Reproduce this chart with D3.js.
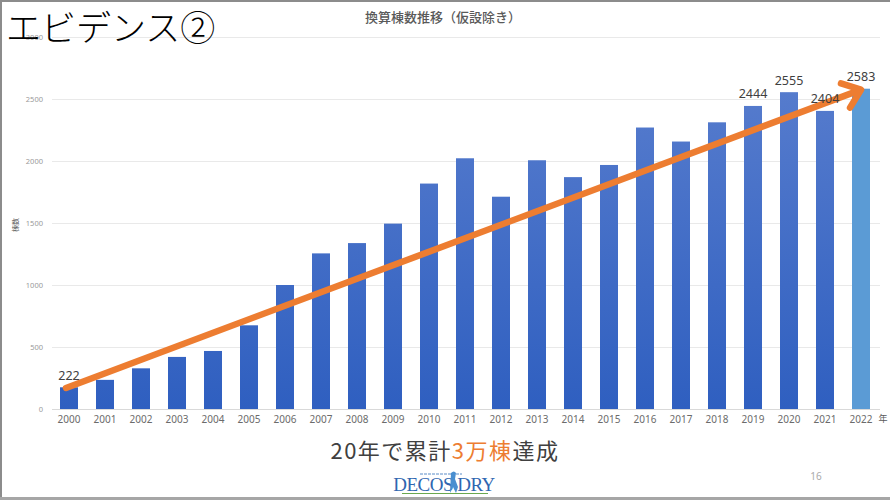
<!DOCTYPE html>
<html>
<head>
<meta charset="utf-8">
<script src="https://cdn.jsdelivr.net/npm/d3@7"></script>
<style>
  html, body { margin: 0; padding: 0; background: #fff; }
  svg { display: block; }
</style>
</head>
<body>
<svg id="chart" width="890" height="500"></svg>
<script>
// ---- data ----
const years = ["2000","2001","2002","2003","2004","2005","2006","2007","2008","2009","2010","2011","2012","2013","2014","2015","2016","2017","2018","2019","2020","2021","2022"];
const values = [175, 235, 328, 420, 468, 675, 1000, 1255, 1338, 1495, 1818, 2022, 1712, 2006, 1870, 1968, 2270, 2157, 2312, 2444, 2555, 2404, 2583];
const yTicks = [0, 500, 1000, 1500, 2000, 2500, 3000];
const labelYears = ["2000", "2019", "2020", "2021", "2022"];
const labelTexts = ["222", "2444", "2555", "2404", "2583"];
const highlightYear = "2022";
const trendStart = { year: "2000", value: 170 };
const trendEnd = { year: "2022", value: 2575 };
const titleText = "換算棟数推移（仮設除き）";
const slideTitle = "エビデンス②";
const yAxisLabel = "棟数";
const xUnit = "年";
const footerParts = [["20年で累計", "#404040"], ["3万棟", "#ED7D31"], ["達成", "#404040"]];
const pageNumber = "16";

// ---- layout ----
const svg = d3.select("#chart");
const W = 890, H = 500;
const plotLeft = 51, plotRight = 879, plotTop = 37, plotBottom = 409;
const jpFont = "'Noto Sans CJK JP', 'Noto Sans', sans-serif";
const numFont = "'Noto Sans', 'Open Sans', sans-serif";

const x = d3.scaleBand().domain(years).range([plotLeft, plotRight]).paddingInner(0.5).paddingOuter(0.25);
const y = d3.scaleLinear().domain([0, 3000]).range([plotBottom, plotTop]);

// background
svg.append("rect").attr("width", W).attr("height", H).attr("fill", "#fff");

// gradient
const defs = svg.append("defs");
const grad2 = defs.append("linearGradient").attr("id", "barGrad2").attr("x1", 0).attr("x2", 0)
  .attr("gradientUnits", "userSpaceOnUse").attr("y1", plotTop).attr("y2", plotBottom);
grad2.append("stop").attr("offset", "0%").attr("stop-color", "#5C80CF");
grad2.append("stop").attr("offset", "100%").attr("stop-color", "#2F5FC0");

// gridlines
svg.append("g").selectAll("line").data(yTicks).join("line")
  .attr("x1", 52).attr("x2", 880)
  .attr("y1", d => Math.round(y(d)) + 0.5).attr("y2", d => Math.round(y(d)) + 0.5)
  .attr("stroke", d => d === 0 ? "#d9d9d9" : "#e9e9e9").attr("stroke-width", 1);

// y tick labels
svg.append("g").selectAll("text").data(yTicks).join("text")
  .attr("x", 43).attr("y", d => y(d)).attr("dy", "0.35em")
  .attr("text-anchor", "end").attr("font-family", numFont).attr("font-size", 7.5)
  .attr("fill", "#9a9a9a").text(d => d);

// y axis label
svg.append("text").attr("transform", "translate(18,225) rotate(-90)")
  .attr("text-anchor", "middle").attr("font-family", jpFont).attr("font-size", 7)
  .attr("fill", "#595959").text(yAxisLabel);

// bars
svg.append("g").selectAll("rect").data(years).join("rect")
  .attr("x", d => x(d)).attr("width", x.bandwidth())
  .attr("y", (d, i) => y(values[i])).attr("height", (d, i) => y(0) - y(values[i]))
  .attr("fill", d => d === highlightYear ? "#5B9BD5" : "url(#barGrad2)");

// x labels
svg.append("g").selectAll("text").data(years).join("text")
  .attr("x", d => x(d) + x.bandwidth() / 2).attr("y", 419).attr("dy", "0.35em")
  .attr("text-anchor", "middle").attr("font-family", numFont).attr("font-size", 10)
  .attr("fill", "#6b6b6b").text(d => d);
svg.append("text").attr("x", 883).attr("y", 419).attr("dy", "0.35em")
  .attr("text-anchor", "middle").attr("font-family", jpFont).attr("font-size", 9)
  .attr("fill", "#595959").text(xUnit);

// trend arrow
const sx = x(trendStart.year) + x.bandwidth() / 2 - 3, sy = y(trendStart.value);
const ex = x(trendEnd.year) + x.bandwidth() / 2, ey = y(trendEnd.value);
const ang = Math.atan2(ey - sy, ex - sx);
const armLen = 21, armAng = 38 * Math.PI / 180;
const arrow = svg.append("g").attr("stroke", "#ED7D31").attr("fill", "none")
  .attr("stroke-width", 6.5).attr("stroke-linecap", "round").attr("stroke-linejoin", "round");
arrow.append("line").attr("x1", sx).attr("y1", sy).attr("x2", ex - 2 * Math.cos(ang)).attr("y2", ey - 2 * Math.sin(ang));
arrow.append("path").attr("d", d3.line()([
  [ex - armLen * Math.cos(ang - armAng), ey - armLen * Math.sin(ang - armAng)],
  [ex, ey],
  [ex - armLen * Math.cos(ang + armAng), ey - armLen * Math.sin(ang + armAng)]
]));

// data labels
svg.append("g").selectAll("text").data(labelYears).join("text")
  .attr("x", d => x(d) + x.bandwidth() / 2)
  .attr("y", d => y(values[years.indexOf(d)]) - 12).attr("dy", "0.35em")
  .attr("text-anchor", "middle").attr("font-family", numFont).attr("font-size", 12.5)
  .attr("fill", "#404040").text((d, i) => labelTexts[i]);

// chart title
svg.append("text").attr("x", 443).attr("y", 17).attr("dy", "0.35em")
  .attr("text-anchor", "middle").attr("font-family", jpFont).attr("font-size", 13)
  .attr("font-weight", 500).attr("fill", "#595959").text(titleText);

// slide title
svg.append("text").attr("x", 6).attr("y", 41)
  .attr("font-family", jpFont).attr("font-size", 35).attr("font-weight", 300)
  .attr("fill", "#000").text(slideTitle);

// footer message
const foot = svg.append("text").attr("x", 445).attr("y", 451).attr("dy", "0.35em")
  .attr("text-anchor", "middle").attr("font-family", jpFont).attr("font-size", 22)
  .attr("letter-spacing", 1.5);
foot.selectAll("tspan").data(footerParts).join("tspan").attr("fill", d => d[1]).text(d => d[0]);

// logo
const logo = svg.append("g");
logo.append("text").attr("x", 444).attr("y", 491).attr("text-anchor", "middle")
  .attr("font-family", "'Liberation Serif', serif").attr("font-size", 19).attr("letter-spacing", -0.5)
  .attr("fill", "#2F66B0").text("DECOS DRY");
logo.append("line").attr("x1", 420).attr("x2", 462).attr("y1", 474).attr("y2", 474)
  .attr("stroke", "#5a8cc8").attr("stroke-width", 1).attr("stroke-dasharray", "3,1");
logo.append("line").attr("x1", 402).attr("x2", 488).attr("y1", 493.5).attr("y2", 493.5)
  .attr("stroke", "#6aa84f").attr("stroke-width", 1);
logo.append("path").attr("d", "M451,473 q3,-3 5,0 l-1,6 l3,8 l-2,6 l-3,-6 l-3,6 z").attr("fill", "#4a8fd0");

// page number
svg.append("text").attr("x", 816).attr("y", 476).attr("dy", "0.35em")
  .attr("text-anchor", "middle").attr("font-family", numFont).attr("font-size", 10)
  .attr("fill", "#aaaaaa").text(pageNumber);

// slide frame
svg.append("rect").attr("x", 0).attr("y", 0).attr("width", W).attr("height", 2).attr("fill", "#8c8c8c");
svg.append("rect").attr("x", 0).attr("y", 0).attr("width", 2).attr("height", H).attr("fill", "#8c8c8c");
svg.append("rect").attr("x", 0).attr("y", 497).attr("width", W).attr("height", 3).attr("fill", "#a6a6a6");
</script>
</body>
</html>
